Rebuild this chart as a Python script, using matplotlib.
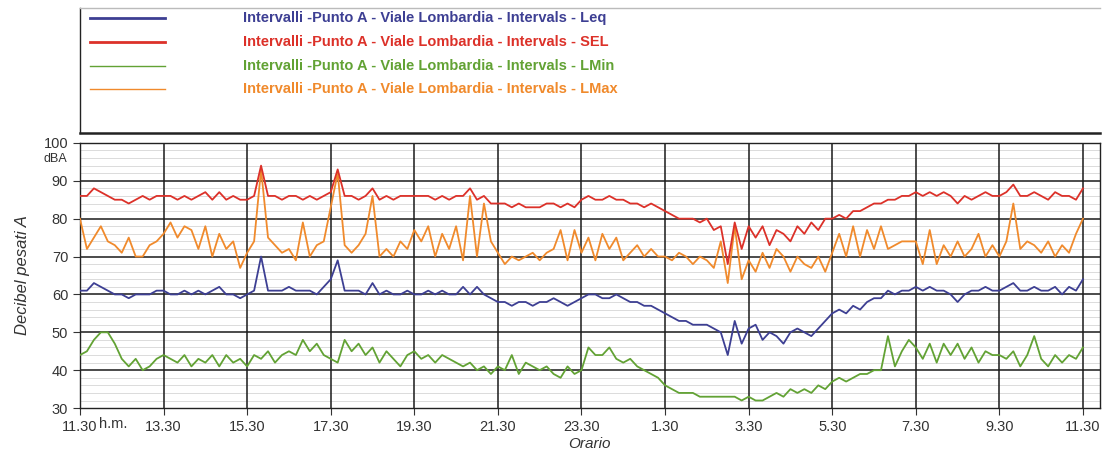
import matplotlib
matplotlib.use("Agg")
import matplotlib.pyplot as plt
import matplotlib.transforms as mtransforms
import numpy as np

plt.rcParams["font.family"] = ["Liberation Sans", "DejaVu Sans"]

# time axis: 10-minute steps starting at 11.30 (hours after 11.30)
n_steps = 145
hours = np.arange(n_steps) / 6.0

tick_hours = np.arange(0, 25, 2)
tick_labels = ["11.30", "13.30", "15.30", "17.30", "19.30", "21.30", "23.30",
               "1.30", "3.30", "5.30", "7.30", "9.30", "11.30"]

series_names = ["Leq", "SEL", "LMin", "LMax"]

sel = [86, 86, 88, 87, 86, 85, 85, 84, 85, 86, 85, 86,
       86, 86, 85, 86, 85, 86, 87, 85, 87, 85, 86, 85,
       85, 86, 94, 86, 86, 85, 86, 86, 85, 86, 85, 86,
       87, 93, 86, 86, 85, 86, 88, 85, 86, 85, 86, 86,
       86, 86, 86, 85, 86, 85, 86, 86, 88, 85, 86, 84,
       84, 84, 83, 84, 83, 83, 83, 84, 84, 83, 84, 83,
       85, 86, 85, 85, 86, 85, 85, 84, 84, 83, 84, 83,
       82, 81, 80, 80, 80, 79, 80, 77, 78, 68, 79, 72,
       78, 75, 78, 73, 77, 76, 74, 78, 76, 79, 77, 80,
       80, 81, 80, 82, 82, 83, 84, 84, 85, 85, 86, 86,
       87, 86, 87, 86, 87, 86, 84, 86, 85, 86, 87, 86,
       86, 87, 89, 86, 86, 87, 86, 85, 87, 86, 86, 85,
       88]

lmax = [80, 72, 75, 78, 74, 73, 71, 75, 70, 70, 73, 74,
        76, 79, 75, 78, 77, 72, 78, 70, 76, 72, 74, 67,
        71, 74, 93, 75, 73, 71, 72, 69, 79, 70, 73, 74,
        83, 92, 73, 71, 73, 76, 86, 70, 72, 70, 74, 72,
        77, 74, 78, 70, 76, 72, 78, 69, 86, 70, 84, 74,
        71, 68, 70, 69, 70, 71, 69, 71, 72, 77, 69, 77,
        71, 75, 69, 76, 72, 75, 69, 71, 73, 70, 72, 70,
        70, 69, 71, 70, 68, 70, 69, 67, 74, 63, 78, 64,
        69, 66, 71, 67, 72, 70, 66, 70, 68, 67, 70, 66,
        71, 76, 70, 78, 70, 77, 72, 78, 72, 73, 74, 74,
        74, 68, 77, 68, 73, 70, 74, 70, 72, 76, 70, 73,
        70, 74, 84, 72, 74, 73, 71, 74, 70, 73, 71, 76,
        80]

leq = [61, 61, 63, 62, 61, 60, 60, 59, 60, 60, 60, 61,
       61, 60, 60, 61, 60, 61, 60, 61, 62, 60, 60, 59,
       60, 61, 70, 61, 61, 61, 62, 61, 61, 61, 60, 62,
       64, 69, 61, 61, 61, 60, 63, 60, 61, 60, 60, 61,
       60, 60, 61, 60, 61, 60, 60, 62, 60, 62, 60, 59,
       58, 58, 57, 58, 58, 57, 58, 58, 59, 58, 57, 58,
       59, 60, 60, 59, 59, 60, 59, 58, 58, 57, 57, 56,
       55, 54, 53, 53, 52, 52, 52, 51, 50, 44, 53, 47,
       51, 52, 48, 50, 49, 47, 50, 51, 50, 49, 51, 53,
       55, 56, 55, 57, 56, 58, 59, 59, 61, 60, 61, 61,
       62, 61, 62, 61, 61, 60, 58, 60, 61, 61, 62, 61,
       61, 62, 63, 61, 61, 62, 61, 61, 62, 60, 62, 61,
       64]

lmin = [44, 45, 48, 50, 50, 47, 43, 41, 43, 40, 41, 43,
        44, 43, 42, 44, 41, 43, 42, 44, 41, 44, 42, 43,
        41, 44, 43, 45, 42, 44, 45, 44, 48, 45, 47, 44,
        43, 42, 48, 45, 47, 44, 46, 42, 45, 43, 41, 44,
        45, 43, 44, 42, 44, 43, 42, 41, 42, 40, 41, 39,
        41, 40, 44, 39, 42, 41, 40, 41, 39, 38, 41, 39,
        40, 46, 44, 44, 46, 43, 42, 43, 41, 40, 39, 38,
        36, 35, 34, 34, 34, 33, 33, 33, 33, 33, 33, 32,
        33, 32, 32, 33, 34, 33, 35, 34, 35, 34, 36, 35,
        37, 38, 37, 38, 39, 39, 40, 40, 49, 41, 45, 48,
        46, 43, 47, 42, 47, 44, 47, 43, 46, 42, 45, 44,
        44, 43, 45, 41, 44, 49, 43, 41, 44, 42, 44, 43,
        46]

colors = {"Leq": "#3d3f93", "SEL": "#dc3129", "LMin": "#62a234", "LMax": "#f08a2c"}
legend_widths = {"Leq": 2.0, "SEL": 2.0, "LMin": 1.0, "LMax": 1.0}
text_color = "#333333"

fig = plt.figure(figsize=(11.03, 4.58), dpi=100)

# legend panel
lax = fig.add_axes([0.0725, 0.7096, 0.9245, 0.2729])
lax.set_xlim(0, 1)
lax.set_ylim(0, 1)
lax.set_xticks([])
lax.set_yticks([])
for sp in lax.spines.values():
    sp.set_color("#222222")
    sp.set_linewidth(1.0)
lax.spines["bottom"].set_linewidth(1.8)
lax.spines["top"].set_color("#bbbbbb")
lax.spines["right"].set_visible(False)
for i, name in enumerate(series_names):
    y = 0.92 - i * 0.19
    lax.plot([0.01, 0.083], [y, y], color=colors[name], lw=legend_widths[name])
    lax.text(0.16, y, f"Intervalli -Punto A - Viale Lombardia - Intervals - {name}",
             color=colors[name], fontsize=10.5, va="center", ha="left",
             fontweight="bold")

# main chart
ax = fig.add_axes([0.0725, 0.109, 0.9245, 0.579])
data = {"Leq": leq, "SEL": sel, "LMin": lmin, "LMax": lmax}
for name in ["LMin", "Leq", "LMax", "SEL"]:
    ax.plot(hours, data[name], color=colors[name], lw=1.3, zorder=3)

ax.set_xlim(0, 24.4)
ax.set_ylim(30, 100)
ax.set_yticks(np.arange(30, 101, 10))
ax.set_xticks(tick_hours)
ax.set_xticklabels(tick_labels)

# light secondary lines every 2 dB, then the black main grid on top
for yv in np.arange(32, 100, 2):
    if yv % 10:
        ax.axhline(yv, color="#d6d6d6", lw=0.6, zorder=0.5)
for yv in np.arange(40, 100, 10):
    ax.axhline(yv, color="#1a1a1a", lw=1.1, zorder=1)
for xv in tick_hours[1:]:
    ax.axvline(xv, color="#1a1a1a", lw=1.1, zorder=1)

ax.tick_params(axis="both", which="major", labelsize=10.5, colors=text_color,
               length=5, width=0.8)
for sp in ax.spines.values():
    sp.set_color("#222222")
    sp.set_linewidth(1.0)

# unit labels
ax.text(-0.012, 0.94, "dBA", transform=ax.transAxes, ha="right", va="center",
        fontsize=9, color=text_color)
trans = mtransforms.blended_transform_factory(ax.transData, ax.transAxes)
ax.text(0.8, -0.035, "h.m.", transform=trans, ha="center", va="top",
        fontsize=10.5, color=text_color)

ax.set_ylabel("Decibel pesati A", fontsize=12, style="italic", color=text_color,
              labelpad=10)
ax.set_xlabel("Orario", fontsize=11, style="italic", color=text_color, labelpad=2)

fig.savefig("out.png", dpi=100)
